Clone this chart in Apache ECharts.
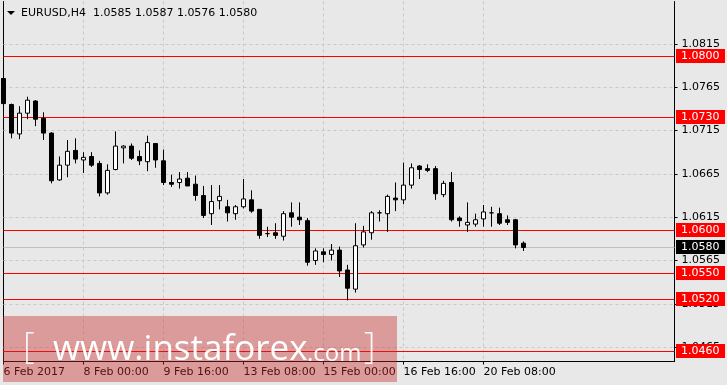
<!DOCTYPE html>
<html><head><meta charset="utf-8">
<script src="https://cdn.jsdelivr.net/npm/echarts@6/dist/echarts.min.js"></script>
<style>html,body{margin:0;padding:0;background:#e8e8e8;}#c{width:727px;height:385px;}</style>
</head><body><div id="c"></div>
<script>
const symbolName = 'EURUSD,H4';
const xTickIndex = [0, 10, 20, 30, 40, 50, 60];
const xTickLabels = ['6 Feb 2017', '8 Feb 00:00', '9 Feb 16:00', '13 Feb 08:00', '15 Feb 00:00', '16 Feb 16:00', '20 Feb 08:00'];
const opens  = [1.0775,1.0745,1.0711,1.0735,1.0749,1.0729,1.0712,1.0658,1.0675,1.0692,1.0681,1.0685,1.0677,1.0643,1.0670,1.0695,1.0697,1.0685,1.0679,1.0700,1.0680,1.0655,1.0655,1.0660,1.0653,1.0640,1.0619,1.0634,1.0627,1.0619,1.0627,1.0635,1.0624,1.0596,1.0597,1.0593,1.0620,1.0615,1.0611,1.0565,1.0575,1.0572,1.0577,1.0554,1.0532,1.0583,1.0597,1.0620,1.0619,1.0637,1.0635,1.0652,1.0674,1.0671,1.0671,1.0641,1.0655,1.0614,1.0606,1.0607,1.0613,1.0620,1.0619,1.0612,1.0612,1.0585];
const highs  = [1.0779,1.0746,1.0743,1.0754,1.0750,1.0736,1.0713,1.0685,1.0704,1.0706,1.0690,1.0690,1.0680,1.0676,1.0714,1.0698,1.0700,1.0692,1.0709,1.0700,1.0693,1.0664,1.0667,1.0667,1.0663,1.0651,1.0652,1.0652,1.0635,1.0629,1.0659,1.0646,1.0624,1.0604,1.0608,1.0622,1.0632,1.0632,1.0614,1.0579,1.0579,1.0584,1.0581,1.0560,1.0608,1.0605,1.0622,1.0623,1.0641,1.0655,1.0678,1.0677,1.0675,1.0676,1.0674,1.0657,1.0667,1.0616,1.0632,1.0619,1.0629,1.0627,1.0626,1.0617,1.0613,1.0587];
const lows   = [1.0742,1.0706,1.0705,1.0728,1.0720,1.0704,1.0654,1.0657,1.0661,1.0677,1.0666,1.0673,1.0639,1.0641,1.0669,1.0677,1.0681,1.0675,1.0668,1.0672,1.0652,1.0650,1.0648,1.0651,1.0634,1.0614,1.0606,1.0624,1.0610,1.0612,1.0625,1.0620,1.0590,1.0592,1.0590,1.0588,1.0604,1.0606,1.0559,1.0560,1.0563,1.0565,1.0546,1.0519,1.0528,1.0580,1.0589,1.0610,1.0598,1.0622,1.0630,1.0648,1.0659,1.0667,1.0635,1.0638,1.0610,1.0604,1.0598,1.0604,1.0604,1.0604,1.0606,1.0606,1.0579,1.0576];
const closes = [1.0746,1.0712,1.0735,1.0750,1.0728,1.0712,1.0657,1.0675,1.0691,1.0682,1.0684,1.0675,1.0643,1.0669,1.0697,1.0697,1.0683,1.0680,1.0701,1.0681,1.0655,1.0653,1.0659,1.0651,1.0640,1.0617,1.0633,1.0639,1.0620,1.0627,1.0636,1.0622,1.0594,1.0596,1.0594,1.0619,1.0615,1.0612,1.0563,1.0576,1.0572,1.0577,1.0553,1.0533,1.0582,1.0598,1.0620,1.0620,1.0639,1.0635,1.0652,1.0672,1.0670,1.0669,1.0642,1.0654,1.0612,1.0611,1.0609,1.0612,1.0621,1.0620,1.0608,1.0609,1.0583,1.0580];
const priceTicks = [1.0465, 1.0515, 1.0565, 1.0615, 1.0665, 1.0715, 1.0765, 1.0815];
const levels = [1.0800, 1.0730, 1.0600, 1.0550, 1.0520, 1.0460];
const bidPrice = 1.0580;

const FONT = 'DejaVu Sans';
const last = opens.length - 1;
const candleData = opens.map((o, i) => [i, o, closes[i], lows[i], highs[i]]);
const headText = symbolName + '  ' + [opens[last], highs[last], lows[last], closes[last]].map(v => v.toFixed(4)).join(' ');

const chart = echarts.init(document.getElementById('c'), null, {renderer: 'canvas'});
const gridColor = '#c8c8c8';
const X_MIN = 0, X_MAX = 83.875;
const Y_MIN = 1.0448458, Y_MAX = 1.0863843;

// horizontal price level with its price box, snapped to whole pixels
function levelSeries(values, lineColor, boxColor) {
  return {
    type: 'custom', z: 1, silent: true, clip: false, animation: false,
    data: values.map(v => [X_MIN, v]),
    encode: {x: 0, y: 1},
    renderItem: (params, api) => {
      const cs = params.coordSys;
      const v = api.value(1);
      const y = Math.round(api.coord([X_MIN, v])[1] - 0.5) + 0.5;
      return {
        type: 'group',
        children: [
          {type: 'line', shape: {x1: cs.x, y1: y, x2: cs.x + cs.width, y2: y}, style: {stroke: lineColor, lineWidth: 1}},
          {type: 'rect', shape: {x: cs.x + cs.width + 1.5, y: y - 7.5, width: 49, height: 14}, style: {fill: boxColor}},
          {type: 'text', x: cs.x + cs.width + 6.5, y: y, style: {text: v.toFixed(4), fill: '#ffffff', font: '11px "DejaVu Sans"', verticalAlign: 'middle', align: 'left'}}
        ]
      };
    }
  };
}

const option = {
  animation: false,
  backgroundColor: '#e8e8e8',
  grid: {left: 3.5, right: 52.5, top: 1.5, bottom: 23.5, show: false},
  xAxis: {
    type: 'value', min: X_MIN, max: X_MAX, interval: 5,
    axisLine: {show: true, onZero: false, lineStyle: {color: '#000', width: 1}},
    axisTick: {show: true, customValues: xTickIndex, length: 3, lineStyle: {color: '#000'}},
    axisLabel: {customValues: xTickIndex, formatter: v => xTickLabels[xTickIndex.indexOf(Math.round(v))] || '',
      align: 'left', margin: 5, color: '#000', fontFamily: FONT, fontSize: 11},
    splitLine: {show: true, lineStyle: {color: gridColor, type: [3, 3], width: 1}}
  },
  yAxis: [{
    type: 'value', position: 'right', min: Y_MIN, max: Y_MAX,
    axisLine: {show: true, onZero: false, lineStyle: {color: '#000', width: 1}},
    axisTick: {show: true, customValues: priceTicks, length: 3, lineStyle: {color: '#000'}},
    axisLabel: {customValues: priceTicks, formatter: v => v.toFixed(4), margin: 7, color: '#000', fontFamily: FONT, fontSize: 11},
    splitLine: {show: false}
  }, {
    type: 'value', position: 'left', min: Y_MIN, max: Y_MAX,
    axisLine: {show: true, onZero: false, lineStyle: {color: '#000', width: 1}},
    axisTick: {show: false}, axisLabel: {show: false}, splitLine: {show: false}
  }],
  series: [
    {
      type: 'line', data: [], silent: true,
      markLine: {silent: true, symbol: 'none', z: 1, precision: 5, animation: false, label: {show: false},
        lineStyle: {color: gridColor, type: [3, 3], width: 1},
        data: priceTicks.map(v => ({yAxis: v}))}
    },
    levelSeries([bidPrice], '#c0c0c0', '#000000'),
    levelSeries(levels, '#ff0000', '#ff0000'),
    {
      type: 'candlestick', z: 3, barWidth: 4,
      encode: {x: 0, y: [1, 2, 3, 4]},
      data: candleData,
      itemStyle: {color: '#ffffff', color0: '#000000', borderColor: '#000000', borderColor0: '#000000', borderColorDoji: '#000000', borderWidth: 1}
    }
  ],
  graphic: [
    {type: 'polygon', shape: {points: [[7, 11], [15, 11], [11, 15]]}, style: {fill: '#000'}, z: 10},
    {type: 'text', x: 21, y: 13, style: {text: headText, font: '11px "DejaVu Sans"', fill: '#000', verticalAlign: 'middle'}, z: 10},
    {type: 'rect', shape: {x: 3, y: 316, width: 394, height: 66}, style: {fill: 'rgba(200,40,40,0.4)'}, z: 100},
    {type: 'text', x: 23, y: 348, style: {text: '[', font: '300 36px "Open Sans"', fill: 'rgba(255,255,255,0.9)', verticalAlign: 'middle'}, z: 101},
    {type: 'text', x: 53, y: 350, style: {text: 'www.instaforex', font: '35px "Open Sans"', fill: '#ffffff', verticalAlign: 'middle'}, z: 101},
    {type: 'text', x: 307, y: 354, style: {text: '.com', font: '24px "Open Sans"', fill: '#ffffff', verticalAlign: 'middle'}, z: 101},
    {type: 'text', x: 364, y: 348, style: {text: ']', font: '300 36px "Open Sans"', fill: 'rgba(255,255,255,0.9)', verticalAlign: 'middle'}, z: 101}
  ]
};
chart.setOption(option);
</script>
</body></html>
